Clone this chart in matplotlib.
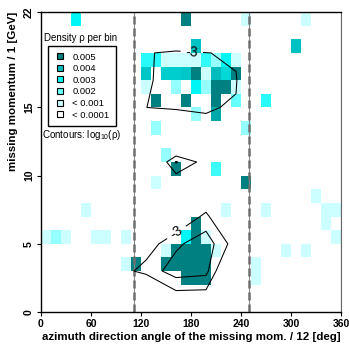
import numpy as np
import matplotlib
matplotlib.use('Agg')
import matplotlib.pyplot as plt
from matplotlib.colors import LinearSegmentedColormap, Normalize
from matplotlib.lines import Line2D

plt.rcParams['font.family'] = ['Liberation Sans', 'DejaVu Sans']

# fine histogram: bin centres (azimuth deg, momentum GeV) and density per bin
cell_az = [42, 174, 246, 318,
           186, 306,
           126, 138, 150, 162, 174, 186, 198, 210, 222, 234,
           126, 150, 162, 174, 186, 198, 210, 222, 234,
           126, 162, 186, 198, 210, 222, 234,
           138, 174, 210, 234, 270,
           186, 210,
           138, 246,
           150,
           162, 210,
           138, 246,
           330,
           54, 222, 270, 342, 354,
           186, 342,
           6, 18, 30, 66, 78, 102, 174, 186, 198, 354,
           150, 162, 174, 186, 198, 210, 294, 318,
           102, 114, 150, 162, 174, 186, 198, 258,
           174, 186, 198, 258]
cell_mom = ([21.5] * 4 + [19.5] * 2 + [18.5] * 10 + [17.5] * 9 + [16.5] * 7
            + [15.5] * 5 + [14.5] * 2 + [13.5] * 2 + [11.5] + [10.5] * 2
            + [9.5] * 2 + [8.5] + [7.5] * 5 + [6.5] * 2 + [5.5] * 10
            + [4.5] * 8 + [3.5] * 8 + [2.5] * 4)
cell_rho = [0.003, 0.005, 0.0009, 0.0009,
            0.0039, 0.0039,
            0.0026, 0.0026, 0.0009, 0.0009, 0.0009, 0.0009, 0.0025, 0.0015, 0.003, 0.0009,
            0.0038, 0.0037, 0.0037, 0.0038, 0.005, 0.0009, 0.004, 0.0035, 0.005,
            0.0009, 0.0015, 0.003, 0.0015, 0.005, 0.005, 0.0009,
            0.005, 0.005, 0.005, 0.002, 0.0026,
            0.0015, 0.0043,
            0.0015, 0.0015,
            0.0015,
            0.005, 0.0024,
            0.0009, 0.005,
            0.0009,
            0.0009, 0.0009, 0.0009, 0.0009, 0.0009,
            0.005, 0.0009,
            0.0009, 0.0015, 0.0009, 0.0009, 0.0009, 0.0009, 0.003, 0.005, 0.0009, 0.0009,
            0.0009, 0.005, 0.005, 0.005, 0.005, 0.0009, 0.0009, 0.0009,
            0.0009, 0.005, 0.005, 0.005, 0.005, 0.005, 0.005, 0.0009,
            0.005, 0.005, 0.005, 0.0009]

# coarse grid used for the log10(rho) contours
cont_az = [18, 54, 90, 126, 162, 198, 234, 270, 306, 342]
cont_mom = [1, 3, 5, 7, 9, 11, 13, 15, 17, 19, 21]
cont_logrho = [
    [-5, -5, -5, -4.5, -3.3, -3.3, -4.5, -5, -5, -5],
    [-5, -5, -3.3, -2.8, -2.25, -2.35, -4.3, -5, -5, -5],
    [-5, -5, -5, -3.3, -2.6, -2.2, -3.3, -5, -5, -5],
    [-5, -5, -5, -5, -3.6, -2.85, -4.2, -5, -5, -5],
    [-5, -5, -5, -5, -3.73, -3.8, -5, -5, -5, -5],
    [-5, -5, -5, -4.22, -2.45, -3.25, -5, -5, -5, -5],
    [-5, -5, -5, -5, -4.95, -3.15, -5, -5, -5, -5],
    [-5, -5, -5, -3.005, -2.84, -2.958, -3.047, -5, -5, -5],
    [-5, -5, -5, -3.126, -2.6, -2.6, -2.953, -4.52, -5, -5],
    [-5, -5, -5, -3.04, -2.9, -2.98, -3.1, -5, -5, -5],
    [-5, -5, -5, -5, -4.33, -5, -5, -5, -5, -5],
]
cont_levels = [-3, -2.5]

cut_az = [111, 249]
legend_rho = [0.005, 0.004, 0.003, 0.002, 0.0009, 0.0]
legend_labels = ['0.005', '0.004', '0.003', '0.002', '< 0.001', '< 0.0001']

cmap = LinearSegmentedColormap.from_list('dens', [
    (0.0, '#ffffff'), (0.18, '#ccffff'), (0.4, '#66ffff'),
    (0.6, '#00f5f5'), (0.8, '#00bcbc'), (1.0, '#008080')])
norm = Normalize(0, 0.005)

fig = plt.figure(figsize=(3.49, 3.45), dpi=100)
ax = fig.add_axes([41 / 349, 33 / 345, 300 / 349, 300 / 345])

H, xe, ye = np.histogram2d(cell_az, cell_mom, bins=[30, 22],
                           range=[[0, 360], [0, 22]], weights=cell_rho)
ax.pcolormesh(xe, ye, np.ma.masked_equal(H.T, 0), cmap=cmap, norm=norm,
              antialiased=False, zorder=1)

for a in cut_az + [360]:
    ax.axvline(a, color='#888888', lw=0.8, zorder=2)
for a in cut_az:
    ax.axvline(a, color='#707070', lw=1.8, ls=(0, (3.2, 1.6)), zorder=2)

cs = ax.contour(cont_az, cont_mom, np.array(cont_logrho), levels=cont_levels,
                colors='black', linewidths=0.75, linestyles='solid', zorder=3)
ax.clabel(cs, levels=[-3], inline=True, fontsize=10, fmt=lambda v: f'{v:.0f}',
          manual=[(181, 19.1), (163, 5.8)])

ax.set_xlim(0, 360)
ax.set_ylim(0, 22)
ax.set_xticks([0, 60, 120, 180, 240, 300, 360])
ax.set_yticks([0, 5, 10, 15, 22])
ax.tick_params(direction='out', length=3, width=0.8, labelsize=7.5, pad=2)
for lab in ax.get_xticklabels() + ax.get_yticklabels():
    lab.set_fontweight('bold')
for lab in ax.get_yticklabels():
    lab.set_rotation(90)
    lab.set_va('center')
for s in ['left', 'bottom', 'top']:
    ax.spines[s].set_color('black')
    ax.spines[s].set_linewidth(1.0)
ax.spines['right'].set_color('#666666')

ax.set_xlabel('azimuth direction angle of the missing mom. / 12 [deg]',
              fontsize=8.25, fontweight='bold', loc='right', labelpad=2)
ax.set_ylabel('missing momentum / 1 [GeV]', fontsize=8.25, fontweight='bold',
              loc='top', labelpad=4)

handles = [Line2D([], [], ls='none', marker='s', markersize=5,
                  markerfacecolor=cmap(norm(v)), markeredgecolor='black',
                  markeredgewidth=0.8) for v in legend_rho]
leg = ax.legend(handles, legend_labels, loc='upper left',
                bbox_to_anchor=(0.022, 0.887), borderaxespad=0, fontsize=6.8,
                frameon=True, fancybox=False, edgecolor='black', framealpha=1,
                borderpad=0.7, handlelength=1.2, handletextpad=0.7,
                labelspacing=0.28)
leg.get_frame().set_linewidth(1.0)
leg.set_zorder(5)

ax.text(0.133, 0.913, 'Density ρ per bin', transform=ax.transAxes,
        ha='center', va='center', fontsize=7, zorder=5)
ax.text(0.137, 0.59, r'Contours: log$_{\mathregular{10}}$(ρ)',
        transform=ax.transAxes, ha='center', va='center', fontsize=7, zorder=5)

fig.savefig('out.png', dpi=100)
